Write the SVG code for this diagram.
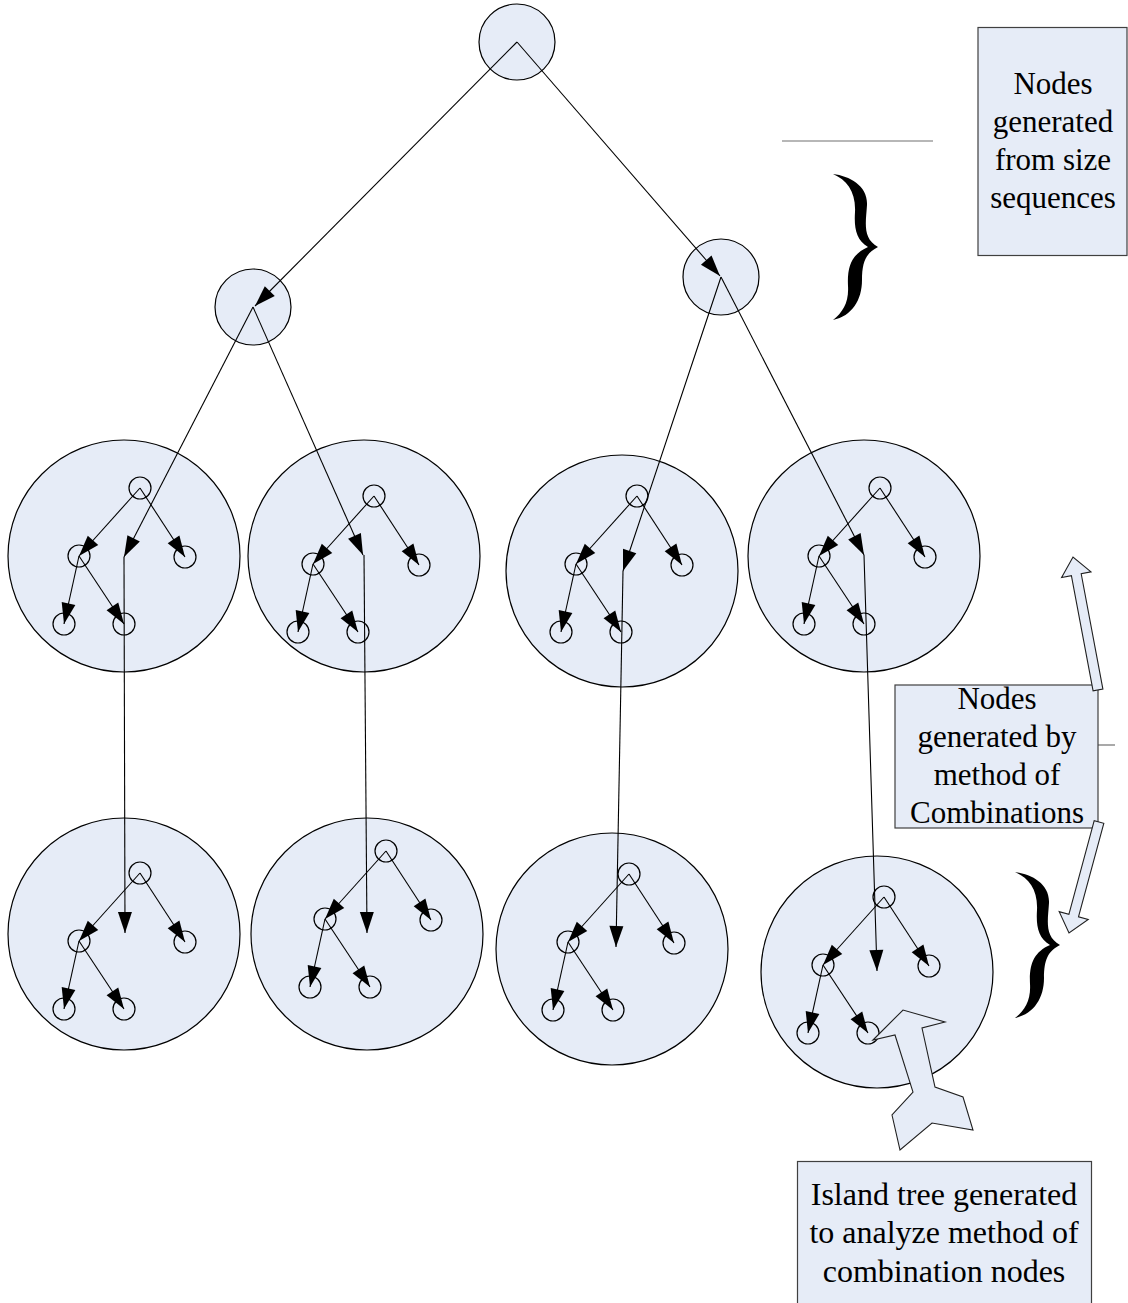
<svg xmlns="http://www.w3.org/2000/svg" xmlns:xlink="http://www.w3.org/1999/xlink" width="1128" height="1303" viewBox="0 0 1128 1303">
<style>
.node{fill:#e6ecf7;stroke:#000;stroke-width:1.2}
.small{fill:#e6ecf7;stroke:#000;stroke-width:1.2}
.conn{fill:none;stroke:#000;stroke-width:1.1}
.box{fill:#e6ecf7;stroke:#404040;stroke-width:1.2}
.blk{fill:#e6ecf7;stroke:#202020;stroke-width:1.1}
.lbl{font-family:"Liberation Serif","Times New Roman",serif;font-size:31px;fill:#000;text-anchor:middle}
.brace{fill:#000}
.gray{stroke:#707070;stroke-width:1.2;fill:none}
</style>
<defs>
<marker id="ah" markerUnits="userSpaceOnUse" markerWidth="22" markerHeight="14" refX="21" refY="7" orient="auto" overflow="visible">
<path d="M0,0 L21,7 L0,14 z" fill="#000"/>
</marker>
<g id="mini">
<circle class="small" cx="0" cy="0" r="11"/>
<circle class="small" cx="-61" cy="68" r="11"/>
<circle class="small" cx="45" cy="69" r="11"/>
<circle class="small" cx="-76" cy="136" r="11"/>
<circle class="small" cx="-16" cy="136" r="11"/>
<line class="conn" x1="0" y1="0" x2="-61" y2="68" marker-end="url(#ah)"/>
<line class="conn" x1="0" y1="0" x2="45" y2="69" marker-end="url(#ah)"/>
<line class="conn" x1="-61" y1="68" x2="-76" y2="136" marker-end="url(#ah)"/>
<line class="conn" x1="-61" y1="68" x2="-16" y2="136" marker-end="url(#ah)"/>
</g>
<path id="brace" d="M833,174 C850,176 868,186 867,205 C866,222 862,238 878,247 C866,253 862,262 862,280 C862,300 852,316 833,320 C843,312 849,302 848,286 C847,266 852,254 868,247 C856,240 854,228 855,212 C856,192 847,180 833,174 Z"/>
</defs>

<g id="root"><circle class="node" cx="517" cy="42" r="38"/></g>
<g id="mid-left"><circle class="node" cx="253" cy="307" r="38"/></g>
<g id="mid-right"><circle class="node" cx="721" cy="277" r="38"/></g>

<g id="island-1a"><circle class="node" cx="124" cy="556" r="116"/><use xlink:href="#mini" href="#mini" transform="translate(140,488)"/></g>
<g id="island-2a"><circle class="node" cx="364" cy="556" r="116"/><use xlink:href="#mini" href="#mini" transform="translate(374,496)"/></g>
<g id="island-3a"><circle class="node" cx="622" cy="571" r="116"/><use xlink:href="#mini" href="#mini" transform="translate(637,496)"/></g>
<g id="island-4a"><circle class="node" cx="864" cy="556" r="116"/><use xlink:href="#mini" href="#mini" transform="translate(880,488)"/></g>

<g id="island-1b"><circle class="node" cx="124" cy="934" r="116"/><use xlink:href="#mini" href="#mini" transform="translate(140,873)"/></g>
<g id="island-2b"><circle class="node" cx="367" cy="934" r="116"/><use xlink:href="#mini" href="#mini" transform="translate(386,851)"/></g>
<g id="island-3b"><circle class="node" cx="612" cy="949" r="116"/><use xlink:href="#mini" href="#mini" transform="translate(629,874)"/></g>
<g id="island-4b"><circle class="node" cx="877" cy="972" r="116"/><use xlink:href="#mini" href="#mini" transform="translate(884,897)"/></g>

<g id="connectors">
<line class="conn" x1="517" y1="42" x2="255" y2="306" marker-end="url(#ah)"/>
<line class="conn" x1="517" y1="42" x2="720" y2="276" marker-end="url(#ah)"/>
<line class="conn" x1="253" y1="307" x2="124" y2="557" marker-end="url(#ah)"/>
<line class="conn" x1="253" y1="307" x2="363" y2="555" marker-end="url(#ah)"/>
<line class="conn" x1="721" y1="277" x2="623" y2="571" marker-end="url(#ah)"/>
<line class="conn" x1="721" y1="277" x2="864" y2="555" marker-end="url(#ah)"/>
<line class="conn" x1="124" y1="557" x2="125" y2="933" marker-end="url(#ah)"/>
<line class="conn" x1="364" y1="555" x2="367" y2="933" marker-end="url(#ah)"/>
<line class="conn" x1="623" y1="571" x2="616" y2="947" marker-end="url(#ah)"/>
<line class="conn" x1="864" y1="555" x2="877" y2="971" marker-end="url(#ah)"/>
</g>

<g id="annotation-size">
<line class="gray" x1="782" y1="141" x2="933" y2="141"/>
<use xlink:href="#brace" href="#brace" class="brace"/>
<rect class="box" x="978" y="27.5" width="149" height="228"/>
<text class="lbl" x="1053" y="94">Nodes</text>
<text class="lbl" x="1053" y="132">generated</text>
<text class="lbl" x="1053" y="170">from size</text>
<text class="lbl" x="1053" y="208">sequences</text>
</g>

<g id="annotation-combinations">
<use xlink:href="#brace" href="#brace" class="brace" transform="translate(182,698)"/>
<line class="gray" x1="1098" y1="745" x2="1115" y2="745"/>
<rect class="box" x="895" y="685" width="203" height="143"/>
<text class="lbl" x="997" y="709">Nodes</text>
<text class="lbl" x="997" y="747">generated by</text>
<text class="lbl" x="997" y="785">method of</text>
<text class="lbl" x="997" y="823">Combinations</text>
<polygon class="blk" points="1093.1,690.9 1071.4,575.6 1061.6,577.5 1073,557 1091.0,571.9 1081.2,573.8 1102.9,689.1"/>
<polygon class="blk" points="1094.2,820.7 1068.9,914.3 1059.2,911.7 1069,933 1088.2,919.5 1078.5,916.9 1103.8,823.3"/>
</g>

<g id="annotation-island">
<polygon class="blk" points="873,1040 903,1010 945,1022 922,1028 935,1087 963,1097 973,1130 932,1123 900,1150 892,1115 913,1092 895,1035"/>
<rect class="box" x="797.5" y="1161.5" width="294" height="160"/>
<text class="lbl" x="944" y="1205" style="font-size:32px">Island tree generated</text>
<text class="lbl" x="944" y="1243" style="font-size:32px">to analyze method of</text>
<text class="lbl" x="944" y="1282" style="font-size:32px">combination nodes</text>
</g>
</svg>
